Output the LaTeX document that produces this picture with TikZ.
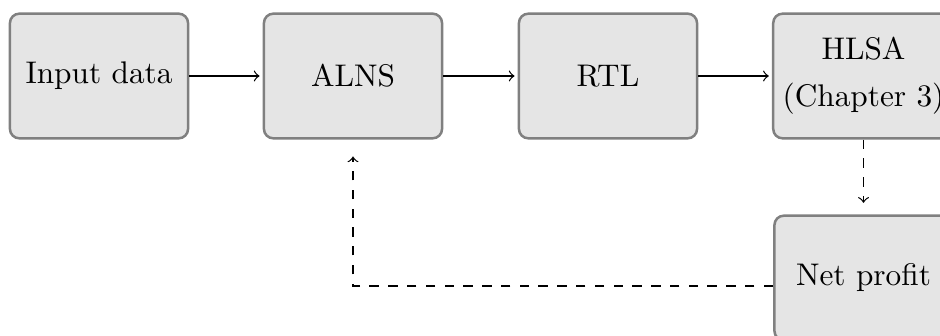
\documentclass[tikz,border=0pt]{standalone}
\begin{document}
\begin{tikzpicture}[x=0.3195pt,y=-0.3195pt,
  block/.style={draw=gray, fill=gray!20, line width=0.8pt, rounded corners=3pt,
    minimum width=2cm, minimum height=1.4cm, align=center, inner sep=3pt},
  flow/.style={->, shorten >=1pt},
  back/.style={->, dashed}]
\useasboundingbox (0,0) rectangle (940,336);
% main pipeline
\node[block] (in)   at (99,76)    {Input data};
\node[block] (alns) at (353,76)   {ALNS};
\node[block] (rtl)  at (608,76)   {RTL};
\node[block] (hlsa) at (863.5,76) {HLSA\\[3pt](Chapter 3)};
\node[block] (net)  at (863.5,278) {Net profit};
% connectors
\draw[flow] (in) -- (alns);
\draw[flow] (alns) -- (rtl);
\draw[flow] (rtl) -- (hlsa);
\draw[back, shorten >=3.7pt] (hlsa) -- (net);
\draw[back, shorten >=5.4pt] (net.base west) -| (alns.south);
\end{tikzpicture}
\end{document}
